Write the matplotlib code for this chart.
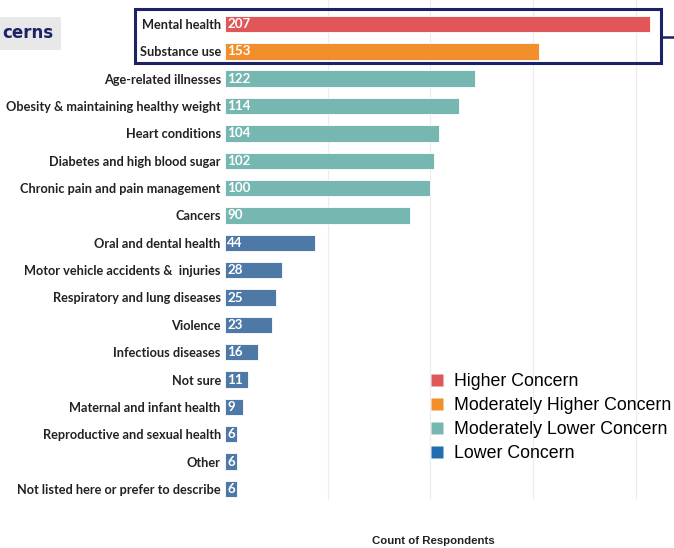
import matplotlib
matplotlib.use("Agg")
import matplotlib.pyplot as plt
from matplotlib.patches import Rectangle
from matplotlib.lines import Line2D

categories = [
    "Mental health", "Substance use", "Age-related illnesses",
    "Obesity & maintaining healthy weight", "Heart conditions",
    "Diabetes and high blood sugar", "Chronic pain and pain management",
    "Cancers", "Oral and dental health", "Motor vehicle accidents &  injuries",
    "Respiratory and lung diseases", "Violence", "Infectious diseases",
    "Not sure", "Maternal and infant health", "Reproductive and sexual health",
    "Other", "Not listed here or prefer to describe",
]
counts = [207, 153, 122, 114, 104, 102, 100, 90, 44, 28, 25, 23, 16, 11, 9, 6, 6, 6]
concern = ["Higher", "Moderately Higher"] + ["Moderately Lower"] * 6 + ["Lower"] * 10

concern_levels = ["Higher", "Moderately Higher", "Moderately Lower", "Lower"]
legend_labels = ["Higher Concern", "Moderately Higher Concern",
                 "Moderately Lower Concern", "Lower Concern"]
bar_colors = {"Higher": "#e15759", "Moderately Higher": "#f28e2b",
              "Moderately Lower": "#76b7b2", "Lower": "#4e79a7"}
legend_colors = {"Higher": "#e15759", "Moderately Higher": "#f28e2b",
                 "Moderately Lower": "#76b7b2", "Lower": "#1f6fb0"}
grid_ticks = [50, 100, 150, 200]

W, H = 674, 548
fig = plt.figure(figsize=(W / 100, H / 100), dpi=100)
label_font = ["Lato", "DejaVu Sans"]

# axes: left edge at the bar baseline, extends to the right edge of the figure
ax_left = 225 / W
ax_bottom = 1 - 500 / H
ax = fig.add_axes([ax_left, ax_bottom, 1 - ax_left, 500 / H])

n = len(categories)
row_px = 27.35
y_top = -24 / row_px
y_bot = (500 - 24) / row_px
ypos = list(range(n))

ax.barh(ypos, counts, height=0.6,
        color=[bar_colors[c] for c in concern],
        edgecolor="#ffffff", linewidth=0.6, zorder=2)

ax.set_xlim(0, (W - 225) / 2.053)
ax.set_ylim(y_bot, y_top)
ax.set_xticks(grid_ticks)
ax.xaxis.grid(True, color="#ececec", linewidth=0.8, zorder=0)
ax.tick_params(axis="x", length=0, labelbottom=False)
ax.set_yticks(ypos)
ax.set_yticklabels(categories, fontsize=9.15, fontweight="bold",
                   family=label_font, color="#222222")
ax.tick_params(axis="y", length=0, pad=3)
for s in ax.spines.values():
    s.set_visible(False)

for y, v in zip(ypos, counts):
    ax.annotate(str(v), (0, y), xytext=(1.5, 0), textcoords="offset points",
                va="center", ha="left", color="white", fontsize=9.6,
                fontweight="bold", family=label_font, zorder=3)

# highlight box around the two top concerns
navy = "#1b2266"
fig.add_artist(Rectangle((135 / W, 1 - 63 / H), (661 - 135) / W, (63 - 9) / H,
                         transform=fig.transFigure, fill=False,
                         edgecolor=navy, linewidth=2.2, zorder=5))
fig.add_artist(Line2D([661 / W, 1.0], [1 - 37 / H, 1 - 37 / H],
                      transform=fig.transFigure, color=navy, linewidth=1.8))

# title fragment with grey background
fig.text(2 / W, 1 - 33 / H, "cerns", fontsize=12, fontweight="bold",
         color="#1b2266", va="center", ha="left",
         bbox=dict(boxstyle="square,pad=0.45", facecolor="#e8e8e8",
                   edgecolor="none"))

# legend
handles = [Line2D([0], [0], marker="s", linestyle="none", markersize=8,
                  markerfacecolor=legend_colors[c], markeredgecolor="none")
           for c in concern_levels]
fig.legend(handles, legend_labels, loc="upper left",
           bbox_to_anchor=(430 / W, 1 - 373 / H), frameon=False,
           handlelength=0.8, handletextpad=0.55,
           labelspacing=0.4, borderaxespad=0, borderpad=0,
           prop={"family": "Liberation Sans", "size": 12.8})

fig.text(433 / W, 1 - 541 / H, "Count of Respondents", fontsize=8.2,
         fontweight="bold", family="Liberation Sans", ha="center",
         va="center", color="#222222")

fig.savefig("out.png", dpi=100)
